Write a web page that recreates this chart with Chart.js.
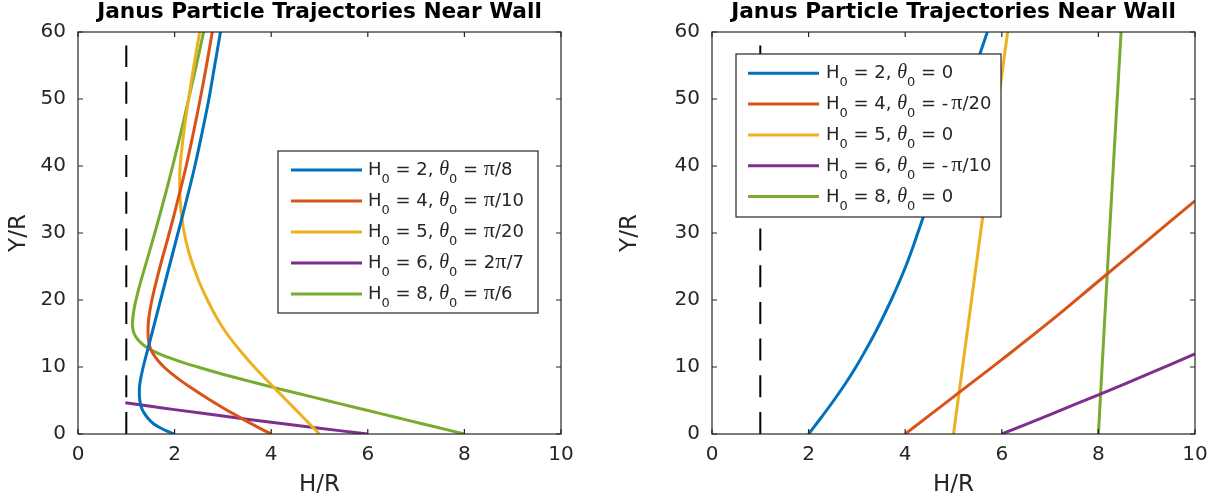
<!DOCTYPE html>
<html><head><meta charset="utf-8">
<script src="https://cdn.jsdelivr.net/npm/chart.js@4.4.0/dist/chart.umd.min.js"></script>
<style>
html,body{margin:0;padding:0;background:#fff;}
#wrap{position:relative;width:1222px;height:502px;overflow:hidden;background:#fff;}
canvas{position:absolute;top:0;}
</style></head><body>
<div id="wrap"><canvas id="c1" width="611" height="502" style="left:0"></canvas><canvas id="c2" width="611" height="502" style="left:611px"></canvas></div>
<script>
const titleText = 'Janus Particle Trajectories Near Wall';
const xLabel = 'H/R';
const yLabel = 'Y/R';
const xTicks = [0, 2, 4, 6, 8, 10];
const yTicks = [0, 10, 20, 30, 40, 50, 60];
const wallX = [1, 1];
const wallY = [0, 58];
const colors = ['#0072BD', '#D95319', '#EDB120', '#7E2F8E', '#77AC30'];

// ---- left panel ----
const leftH0 = [2, 4, 5, 6, 8];
const leftTheta0 = ['π/8', 'π/10', 'π/20', '2π/7', 'π/6'];
const leftAy = [0, 0.5, 1, 1.5, 2, 3, 4, 5, 6, 7.5, 10, 12.5, 15, 17.5, 20, 25, 30, 35, 40, 45, 50, 55, 60];
const leftAx = [2.00, 1.82, 1.68, 1.57, 1.49, 1.38, 1.31, 1.28, 1.27, 1.28, 1.35, 1.44, 1.53, 1.62, 1.71, 1.89, 2.07, 2.25, 2.42, 2.57, 2.71, 2.83, 2.95];
const leftBy = [0, 1, 2, 3, 4, 5, 6, 7, 8, 9, 10, 11, 12, 13, 14, 15, 17, 20, 25, 30, 35, 40, 45, 50, 55, 60];
const leftBx = [4.00, 3.73, 3.47, 3.22, 2.98, 2.75, 2.53, 2.32, 2.12, 1.94, 1.78, 1.65, 1.55, 1.49, 1.46, 1.45, 1.46, 1.53, 1.70, 1.89, 2.07, 2.24, 2.39, 2.53, 2.66, 2.78];
const leftCy = [0, 2.5, 5, 7.5, 10, 12.5, 15, 17.5, 20, 22.5, 25, 27.5, 30, 32.5, 35, 37.5, 40, 45, 50, 55, 60];
const leftCx = [5.00, 4.66, 4.32, 3.98, 3.65, 3.35, 3.08, 2.86, 2.68, 2.52, 2.39, 2.28, 2.20, 2.145, 2.115, 2.105, 2.115, 2.19, 2.29, 2.40, 2.52];
const leftDx = [6.00, 5.00, 4.00, 3.00, 2.00, 1.50, 0.98];
const leftDy = [0, 0.86, 1.75, 2.68, 3.64, 4.13, 4.65];
const leftEy = [0, 1, 2, 3, 4, 5, 6, 7, 8, 9, 10, 11, 12, 13, 14, 15, 16, 17, 19, 22, 26, 30, 35, 40, 45, 50, 55, 60];
const leftEx = [8.00, 7.43, 6.86, 6.29, 5.72, 5.15, 4.58, 4.02, 3.48, 2.96, 2.48, 2.04, 1.67, 1.41, 1.25, 1.16, 1.13, 1.13, 1.17, 1.27, 1.43, 1.59, 1.78, 1.96, 2.13, 2.29, 2.45, 2.60];

// ---- right panel ----
const rightH0 = [2, 4, 5, 6, 8];
const rightTheta0 = ['0', '-π/20', '0', '-π/10', '0'];
const rightAy = [0, 2.5, 5, 7.5, 10, 12.5, 15, 17.5, 20, 22.5, 25, 27.5, 30, 35, 40, 45, 50, 55, 60];
const rightAx = [2.00, 2.265, 2.52, 2.76, 2.98, 3.18, 3.37, 3.545, 3.71, 3.865, 4.01, 4.14, 4.26, 4.50, 4.745, 4.985, 5.225, 5.465, 5.70];
const rightBx = [4, 5, 6, 7, 8, 9, 10];
const rightBy = [0, 5.55, 11.1, 16.8, 22.8, 28.8, 34.8];
const rightCx = [5, 5.28, 5.56, 5.84, 6.12];
const rightCy = [0, 15, 30, 45, 60];
const rightDx = [6, 7, 8, 9, 10];
const rightDy = [0, 2.9, 5.85, 8.85, 11.95];
const rightEx = [8, 8.23, 8.47];
const rightEy = [0, 30, 60];

function zip(xs, ys) { return xs.map((v, i) => ({x: v, y: ys[i]})); }

const SANS = '"DejaVu Sans", "Liberation Sans", Arial, sans-serif';
const SERIF = '"Liberation Serif", "Times New Roman", serif';

function drawLabel(ctx, x, y, h0, theta) {
  const main = '18px ' + SANS, sub = '13px ' + SANS;
  const parts = [
    {t: 'H', f: main, dy: 0},
    {t: '0', f: sub, dy: 8},
    {t: ' = ' + h0 + ', ', f: main, dy: 0},
    {t: 'θ', f: 'italic 20px ' + SERIF, dy: 0},
    {t: '0', f: sub, dy: 8},
    {t: ' = ', f: main, dy: 0}
  ];
  theta.split(/(π)/).forEach(s => {
    if (!s) return;
    if (s === 'π') parts.push({t: s, f: '22px ' + SERIF, dy: 0});
    else if (s === '-') parts.push({t: s, f: main, dy: 0, pad: 3});
    else parts.push({t: s, f: main, dy: 0});
  });
  ctx.textAlign = 'left';
  ctx.textBaseline = 'alphabetic';
  for (const p of parts) {
    ctx.font = p.f;
    ctx.fillText(p.t, x, y + p.dy);
    x += ctx.measureText(p.t).width + (p.pad || 0);
  }
}

function framePlugin(leg, h0s, thetas) {
  return {
    id: 'frame',
    afterDatasetsDraw(chart) {
      const {ctx, chartArea: a, scales: {x, y}} = chart;
      ctx.save();
      ctx.strokeStyle = '#262626';
      ctx.lineWidth = 1.2;
      ctx.strokeRect(a.left, a.top, a.right - a.left, a.bottom - a.top);
      ctx.beginPath();
      xTicks.forEach(v => {
        const px = x.getPixelForValue(v);
        ctx.moveTo(px, a.bottom); ctx.lineTo(px, a.bottom - 5);
        ctx.moveTo(px, a.top); ctx.lineTo(px, a.top + 5);
      });
      yTicks.forEach(v => {
        const py = y.getPixelForValue(v);
        ctx.moveTo(a.left, py); ctx.lineTo(a.left + 5, py);
        ctx.moveTo(a.right, py); ctx.lineTo(a.right - 5, py);
      });
      ctx.stroke();
      // title
      ctx.fillStyle = '#000';
      ctx.font = 'bold 21.7px ' + SANS;
      ctx.textAlign = 'center';
      ctx.textBaseline = 'alphabetic';
      ctx.fillText(titleText, (a.left + a.right) / 2, 18);
      // legend
      ctx.fillStyle = '#fff';
      ctx.fillRect(leg.x, leg.y, leg.w, leg.h);
      ctx.strokeStyle = '#262626';
      ctx.lineWidth = 1.2;
      ctx.strokeRect(leg.x, leg.y, leg.w, leg.h);
      h0s.forEach((h, i) => {
        const ry = leg.row0 + i * leg.step;
        ctx.strokeStyle = colors[i];
        ctx.lineWidth = 3;
        ctx.beginPath();
        ctx.moveTo(leg.l0, ry); ctx.lineTo(leg.l1, ry);
        ctx.stroke();
        ctx.fillStyle = '#262626';
        drawLabel(ctx, leg.tx, ry + 5, h, thetas[i]);
      });
      ctx.restore();
    }
  };
}

function makeChart(id, series, padRight, yWidth, leg, h0s, thetas) {
  const datasets = [{
    data: zip(wallX, wallY), showLine: true, borderColor: '#000', borderWidth: 2,
    borderDash: [22, 14.7], pointRadius: 0, tension: 0
  }];
  series.forEach((s, i) => datasets.push({
    data: zip(s[0], s[1]), showLine: true, borderColor: colors[i], borderWidth: 3,
    pointRadius: 0, tension: 0.4, borderJoinStyle: 'round'
  }));
  const tickFont = {family: SANS, size: 20};
  const titleFont = {family: SANS, size: 23};
  return new Chart(document.getElementById(id), {
    type: 'scatter',
    data: {datasets},
    options: {
      responsive: false, animation: false, devicePixelRatio: 1,
      layout: {padding: {left: 0, right: padRight, top: 32, bottom: 0}},
      plugins: {legend: {display: false}, title: {display: false}, tooltip: {enabled: false}},
      events: [],
      scales: {
        x: {
          type: 'linear', min: 0, max: 10,
          afterBuildTicks: s => { s.ticks = xTicks.map(v => ({value: v})); },
          afterFit: s => { s.height = 68; },
          grid: {display: false, drawTicks: false}, border: {display: false},
          ticks: {font: tickFont, color: '#262626', padding: 9, maxRotation: 0, autoSkip: false},
          title: {display: true, text: xLabel, font: titleFont, color: '#262626', padding: {top: 0, bottom: 3}}
        },
        y: {
          type: 'linear', min: 0, max: 60,
          afterBuildTicks: s => { s.ticks = yTicks.map(v => ({value: v})); },
          afterFit: s => { s.width = yWidth; },
          grid: {display: false, drawTicks: false}, border: {display: false},
          ticks: {font: tickFont, color: '#262626', padding: 12, autoSkip: false},
          title: {display: true, text: yLabel, font: titleFont, color: '#262626', padding: {top: 5, bottom: 0}}
        }
      }
    },
    plugins: [framePlugin(leg, h0s, thetas)]
  });
}

makeChart('c1',
  [[leftAx, leftAy], [leftBx, leftBy], [leftCx, leftCy], [leftDx, leftDy], [leftEx, leftEy]],
  50, 78,
  {x: 278, y: 151, w: 260, h: 162, l0: 291, l1: 362, tx: 368, row0: 170, step: 31},
  leftH0, leftTheta0);

makeChart('c2',
  [[rightAx, rightAy], [rightBx, rightBy], [rightCx, rightCy], [rightDx, rightDy], [rightEx, rightEy]],
  27, 101,
  {x: 125, y: 54, w: 265, h: 163, l0: 137, l1: 208, tx: 215, row0: 73.3, step: 30.8},
  rightH0, rightTheta0);
</script>
</body></html>
